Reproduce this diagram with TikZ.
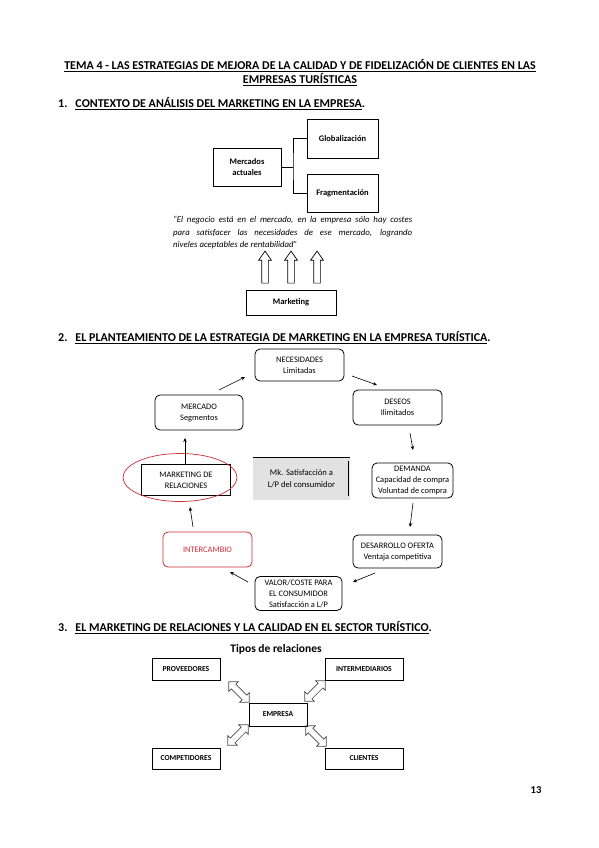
\documentclass[tikz,border=0pt]{standalone}
\usepackage{fontspec}
\setmainfont{Carlito}
\usetikzlibrary{arrows.meta,shapes.arrows}
\definecolor{redc}{RGB}{205,45,55}
\definecolor{grayfill}{RGB}{226,226,226}
\begin{document}
\begin{tikzpicture}[x=1pt,y=-1pt,
  box/.style={draw, line width=0.8pt, inner sep=0pt, align=center},
  rbox/.style={box, rounded corners=5pt, font=\fontsize{8.4}{11}\selectfont},
  sbox/.style={box, font=\fontsize{7.6}{9}\selectfont\bfseries},
  conn/.style={line width=0.7pt},
  arr/.style={-{Stealth[length=4pt,width=3.5pt]}, line width=0.6pt},
  uparrow/.style={single arrow, draw, line width=0.7pt, rotate=90, minimum height=32pt,
     inner sep=3pt, single arrow head extend=3pt, single arrow tip angle=70},
  darrow/.style={double arrow, draw=black!70, line width=0.6pt, minimum height=29pt,
     inner sep=3pt, double arrow head extend=3.5pt, double arrow tip angle=90},
  head/.style={anchor=base west, font=\fontsize{12}{14}\selectfont\bfseries, inner sep=0pt}
]
\useasboundingbox (0,0) rectangle (599,848);
\fill[white] (0,0) rectangle (599,848);

% Title
\node[anchor=base, font=\fontsize{12}{14}\selectfont\bfseries, inner sep=0pt] (t1) at (300,69.5)
  {\underline{TEMA 4 - LAS ESTRATEGIAS DE MEJORA DE LA CALIDAD Y DE FIDELIZACIÓN DE CLIENTES EN LAS}};
\node[anchor=base, font=\fontsize{12}{14}\selectfont\bfseries, inner sep=0pt] (t2) at (300,84)
  {\underline{EMPRESAS TURÍSTICAS}};

% Section 1
\node[head] (h1) at (58,107.5) {1.\hspace{8pt}\underline{CONTEXTO DE ANÁLISIS DEL MARKETING EN LA EMPRESA}.};

\node[box, minimum width=68pt, minimum height=38pt, font=\fontsize{8.5}{11}\selectfont\bfseries] (merc) at (247,167) {Mercados\\actuales};
\node[box, minimum width=71pt, minimum height=39pt, font=\fontsize{8.5}{11}\selectfont\bfseries] (glob) at (342.5,138.5) {Globalización};
\node[box, minimum width=71pt, minimum height=38pt, font=\fontsize{8.5}{11}\selectfont\bfseries] (frag) at (342.5,193) {Fragmentación};
\coordinate (j) at (293,167);
\draw[conn] (merc.east) -- (j);
\draw[conn] (glob.west) -| (j) |- (frag.west);

\node[anchor=north west, inner sep=0pt, font=\fontsize{8.8}{12.5}\selectfont\itshape] (quote) at (173,216)
  {\parbox{239pt}{\hyphenpenalty=10000\exhyphenpenalty=10000\noindent “El negocio está en el mercado, en la empresa sólo hay costes\linebreak para satisfacer las necesidades de ese mercado, logrando\linebreak niveles aceptables de rentabilidad”}};

\node[uparrow] (ua1) at (265,269.5) {};
\node[uparrow] (ua2) at (291,269.5) {};
\node[uparrow] (ua3) at (317,269.5) {};
\node[box, minimum width=90pt, minimum height=25pt, font=\fontsize{8.5}{11}\selectfont\bfseries] (mkt) at (291,302.5) {Marketing};

% Section 2
\node[head] (h2) at (58,341.5) {2.\hspace{8pt}\underline{EL PLANTEAMIENTO DE LA ESTRATEGIA DE MARKETING EN LA EMPRESA TURÍSTICA}.};

\node[rbox, minimum width=89pt, minimum height=32pt] (nec) at (299.5,365) {NECESIDADES\\Limitadas};
\node[rbox, minimum width=89pt, minimum height=35pt] (des) at (397.5,407.5) {DESEOS\\Ilimitados};
\node[rbox, minimum width=88pt, minimum height=35pt] (mer) at (199,412.5) {MERCADO\\Segmentos};
\node[rbox, minimum width=81pt, minimum height=35pt] (dem) at (412.5,480.5) {DEMANDA\\Capacidad de compra\\Voluntad de compra};
\node[rbox, minimum width=89pt, minimum height=33pt] (dof) at (397.5,551.5) {DESARROLLO OFERTA\\Ventaja competitiva};
\node[rbox, minimum width=87pt, minimum height=34pt] (val) at (298.5,593.5) {VALOR/COSTE PARA\\EL CONSUMIDOR\\Satisfacción a L/P};
\node[rbox, draw=redc, text=redc, minimum width=89pt, minimum height=35pt] (int) at (207.5,549.5) {INTERCAMBIO};
\node[box, minimum width=89pt, minimum height=31pt, font=\fontsize{8.4}{11}\selectfont] (mrel) at (186,480) {MARKETING DE\\RELACIONES};
\draw[redc, line width=0.7pt] (180,477.5) ellipse [x radius=57pt, y radius=24pt];

\node[fill=grayfill, inner sep=0pt, minimum width=97pt, minimum height=42pt, align=center, font=\fontsize{8.6}{12}\selectfont] (mk) at (301.5,479) {Mk. Satisfacción a\\L/P del consumidor};
\draw[line width=0.8pt] (mk.north west) -- (mk.north east);
\draw[line width=0.8pt] ([xshift=-1.5pt,yshift=-3pt]mk.north east) -- ([xshift=-1.5pt,yshift=4pt]mk.south east);

\coordinate (a1s) at (219,390); \coordinate (a1e) at (245,377);
\coordinate (a2s) at (352,376); \coordinate (a2e) at (377,385);
\coordinate (a3s) at (410,433); \coordinate (a3e) at (413,450);
\coordinate (a4s) at (413,503); \coordinate (a4e) at (410,527);
\coordinate (a5s) at (375,573); \coordinate (a5e) at (353,582);
\coordinate (a6s) at (248,582); \coordinate (a6e) at (230,572);
\coordinate (a7s) at (193,527); \coordinate (a7e) at (190,507);
\coordinate (a8e) at (185,438);
\draw[arr] (a1s) -- (a1e);
\draw[arr] (a2s) -- (a2e);
\draw[arr] (a3s) -- (a3e);
\draw[arr] (a4s) -- (a4e);
\draw[arr] (a5s) -- (a5e);
\draw[arr] (a6s) -- (a6e);
\draw[arr] (a7s) -- (a7e);
\draw[arr] (mrel.north -| a8e) -- (a8e);

% Section 3
\node[head] (h3) at (58,631.5) {3.\hspace{8pt}\underline{EL MARKETING DE RELACIONES Y LA CALIDAD EN EL SECTOR TURÍSTICO}.};
\node[font=\fontsize{11.5}{13}\selectfont\bfseries, inner sep=0pt] (tipos) at (276,649) {Tipos de relaciones};

\node[sbox, minimum width=68pt, minimum height=22pt] (prov) at (186,669) {PROVEEDORES};
\node[sbox, minimum width=78pt, minimum height=22pt] (inte) at (364,669) {INTERMEDIARIOS};
\node[sbox, minimum width=58pt, minimum height=23pt] (emp) at (278,714.5) {EMPRESA};
\node[sbox, minimum width=68pt, minimum height=21pt] (comp) at (186,758.5) {COMPETIDORES};
\node[sbox, minimum width=78pt, minimum height=21pt] (cli) at (364,758.5) {CLIENTES};

\node[darrow, rotate=-45] (d1) at (239,692) {};
\node[darrow, rotate=45] (d2) at (315,691) {};
\node[darrow, rotate=45] (d3) at (238,735) {};
\node[darrow, rotate=-45] (d4) at (316,736) {};

\node[font=\fontsize{10.5}{12}\selectfont\bfseries, inner sep=0pt] (pg) at (536,790) {13};
\end{tikzpicture}
\end{document}
